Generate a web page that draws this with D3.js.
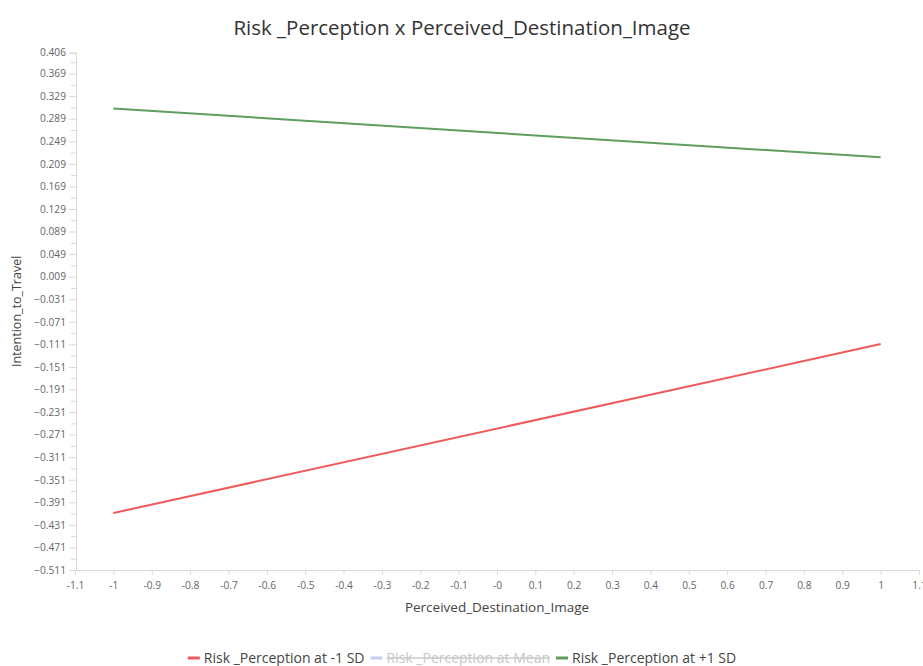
<!DOCTYPE html>
<html>
<head>
<meta charset="utf-8">
<script src="https://cdn.jsdelivr.net/npm/d3@7"></script>
<style>
  body { margin: 0; background: #fff; }
  svg { display: block; font-family: "Open Sans", "Noto Sans", sans-serif; }
</style>
</head>
<body>
<svg id="chart" width="923" height="666"></svg>
<script>
// Simple slopes: predicted Intention_to_Travel at x = -1 and x = +1
const xPoints = [-1, 1];
const lowSD = [-0.410, -0.1105];   // Risk _Perception at -1 SD
const meanSD = [-0.0515, 0.055];   // Risk _Perception at Mean (toggled off)
const highSD = [0.307, 0.2205];    // Risk _Perception at +1 SD

const seriesNames = ["Risk _Perception at -1 SD", "Risk _Perception at Mean", "Risk _Perception at +1 SD"];
const seriesColors = ["#f05a5a", "#c3d3f1", "#5f9e5f"];
const seriesVisible = [true, false, true];
const seriesValues = [lowSD, meanSD, highSD];

const xTicks = [-1.1, -1, -0.9, -0.8, -0.7, -0.6, -0.5, -0.4, -0.3, -0.2, -0.1, 0, 0.1, 0.2, 0.3, 0.4, 0.5, 0.6, 0.7, 0.8, 0.9, 1, 1.1];
const xTickLabels = ["-1.1", "-1", "-0.9", "-0.8", "-0.7", "-0.6", "-0.5", "-0.4", "-0.3", "-0.2", "-0.1", "-0", "0.1", "0.2", "0.3", "0.4", "0.5", "0.6", "0.7", "0.8", "0.9", "1", "1.1"];
const yTicks = [-0.511, -0.471, -0.431, -0.391, -0.351, -0.311, -0.271, -0.231, -0.191, -0.151, -0.111, -0.071, -0.031, 0.009, 0.049, 0.089, 0.129, 0.169, 0.209, 0.249, 0.289, 0.329, 0.369, 0.406];
const yMinorTicks = [-0.491, -0.451, -0.411, -0.371, -0.331, -0.291, -0.251, -0.211, -0.171, -0.131, -0.091, -0.051, -0.011, 0.029, 0.069, 0.109, 0.149, 0.189, 0.229, 0.269, 0.309, 0.349, 0.389];

const svg = d3.select("#chart");
const W = 923, H = 666;

const x = d3.scaleLinear().domain([-1.1, 1.1]).range([75, 919]);
const y = d3.scaleLinear().domain([-0.511, 0.406]).range([570, 52.7]);

const axisColor = "#d9d9d9";
const labelColor = "#666";

// Title
svg.append("text")
  .attr("x", 462).attr("y", 35)
  .attr("text-anchor", "middle")
  .attr("font-size", 20.5)
  .attr("fill", "#333")
  .text("Risk _Perception x Perceived_Destination_Image");

// Y axis
const yAxis = svg.append("g").attr("transform", `translate(${x(-1.1) + 1},0)`);
yAxis.call(d3.axisLeft(y).tickValues(yTicks).tickSize(7).tickFormat(d3.format(".3f")));
yAxis.append("g").call(d3.axisLeft(y).tickValues(yMinorTicks).tickSize(5).tickFormat(""))
  .call(g => g.select(".domain").remove());
yAxis.selectAll(".domain").attr("stroke", axisColor);
yAxis.selectAll(".tick line").attr("stroke", axisColor);
yAxis.selectAll(".tick text")
  .attr("fill", labelColor).attr("font-size", 10.2)
  .attr("font-family", "\"Open Sans\", sans-serif")
  .attr("x", -10);

// X axis
const xAxis = svg.append("g").attr("transform", `translate(0,${y(-0.511)})`);
xAxis.call(d3.axisBottom(x).tickValues(xTicks).tickSize(5)
  .tickFormat((d, i) => xTickLabels[i]));
xAxis.selectAll(".domain").attr("stroke", axisColor);
xAxis.selectAll(".tick line").attr("stroke", axisColor);
xAxis.selectAll(".tick text")
  .attr("fill", labelColor).attr("font-size", 10.2)
  .attr("font-family", "\"Open Sans\", sans-serif")
  .attr("y", 12);

// Axis titles
svg.append("text")
  .attr("x", (x(-1.1) + x(1.1)) / 2).attr("y", 612)
  .attr("text-anchor", "middle")
  .attr("font-size", 13.5).attr("fill", "#444")
  .text("Perceived_Destination_Image");

svg.append("text")
  .attr("transform", `translate(21,${(y(-0.511) + y(0.406)) / 2}) rotate(-90)`)
  .attr("text-anchor", "middle")
  .attr("font-size", 12.5).attr("fill", "#444")
  .text("Intention_to_Travel");

// Lines
const line = d3.line().x((d, i) => x(xPoints[i])).y(d => y(d));
seriesValues.forEach((vals, s) => {
  if (!seriesVisible[s]) return;
  svg.append("path")
    .datum(vals)
    .attr("d", line)
    .attr("fill", "none")
    .attr("stroke", seriesColors[s])
    .attr("stroke-width", 2);
});

// Legend
const legend = svg.append("g").attr("transform", "translate(0,658)");
const legendItems = legend.selectAll("g").data(seriesNames).join("g");
legendItems.append("line")
  .attr("x1", 0).attr("x2", 12).attr("y1", 0).attr("y2", 0)
  .attr("stroke", (d, i) => seriesColors[i]).attr("stroke-width", 3);
legendItems.append("text")
  .attr("x", 16).attr("y", 5)
  .attr("font-size", 14)
  .attr("fill", (d, i) => seriesVisible[i] ? "#444" : "#c8c8c8")
  .attr("text-decoration", (d, i) => seriesVisible[i] ? null : "line-through")
  .text(d => d);
// lay legend items out in a centered row
const widths = [];
legendItems.each(function () { widths.push(this.getBBox().width); });
const gap = 6;
const total = d3.sum(widths) + gap * (widths.length - 1);
let cx = 462 - total / 2;
legendItems.attr("transform", (d, i) => {
  const t = `translate(${cx},0)`;
  cx += widths[i] + gap;
  return t;
});
</script>
</body>
</html>
